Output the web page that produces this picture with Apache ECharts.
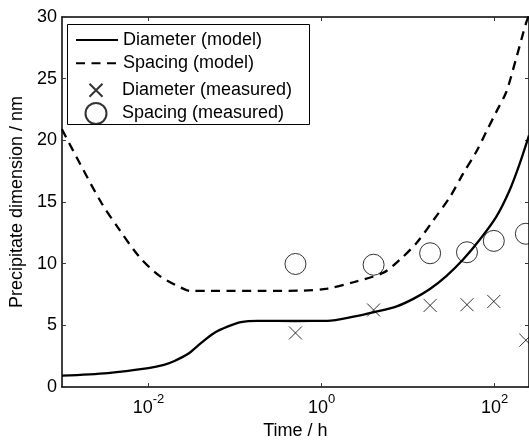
<!DOCTYPE html>
<html>
<head>
<meta charset="utf-8">
<script src="https://cdn.jsdelivr.net/npm/echarts@6/dist/echarts.min.js"></script>
<style>
html,body{margin:0;padding:0;background:#fff;}
#chart{width:529px;height:445px;}
</style>
</head>
<body>
<div id="chart"></div>
<script>
// ---- data ----
const xTickValues = [0.01, 1, 100];
const yTickMin = 0, yTickMax = 30, yTickStep = 5;

const diameterModelTime  = [0.001, 0.00339, 0.01, 0.0151, 0.02, 0.0282, 0.0407, 0.0575, 0.0832, 0.117, 0.182, 0.5, 1.17, 2.34, 4.17, 7.41, 11.5, 17.9, 27.9, 43.3, 67.3, 104.5, 148, 194, 250];
const diameterModelValue = [0.93, 1.14, 1.54, 1.8, 2.12, 2.66, 3.59, 4.39, 4.92, 5.27, 5.37, 5.36, 5.37, 5.71, 6.1, 6.55, 7.15, 7.95, 9.02, 10.34, 11.94, 13.8, 15.9, 18.06, 20.4];

const spacingModelTime  = [0.001, 0.00162, 0.00288, 0.00457, 0.00776, 0.0133, 0.0251, 0.0302, 0.05, 0.2, 0.6, 1.17, 2.34, 5.2, 8.09, 12.6, 19.5, 30.4, 43.3, 61.7, 80.2, 104.5, 136, 177, 231, 260];
const spacingModelValue = [20.9, 18.1, 14.9, 12.8, 10.6, 9.04, 7.98, 7.8, 7.8, 7.8, 7.82, 7.98, 8.5, 9.28, 10.34, 11.7, 13.5, 15.4, 17.3, 19.1, 20.7, 22.3, 23.9, 26.6, 29.5, 30.5];

const measuredTime = [0.5, 4, 18, 48, 98, 230];
const diameterMeasured = [4.39, 6.25, 6.62, 6.68, 6.94, 3.8];
const spacingMeasured  = [9.98, 9.92, 10.85, 10.93, 11.85, 12.43];

const seriesNames = ['Diameter (model)', 'Spacing (model)', 'Diameter (measured)', 'Spacing (measured)'];
const xAxisName = 'Time / h';
const yAxisName = 'Precipitate dimension / nm';

// ---- chart ----
const FONT = '"Liberation Sans", Arial, Helvetica, sans-serif';
const zip = (xs, ys) => xs.map((x, i) => [x, ys[i]]);
const crossPath = 'path://M-4,-4M17,17M0,0L13,13M13,0L0,13';

const chart = echarts.init(document.getElementById('chart'), null, {renderer: 'canvas'});

const expLabel = v => {
  const e = Math.round(Math.log10(v));
  return '{b|10}{s|' + e + '}';
};

const commonX = {
  type: 'log', logBase: 10, min: 0.001, max: 250,
  axisLine: {show: true, onZero: false, lineStyle: {color: '#000', width: 1.5}},
  splitLine: {show: false}, minorTick: {show: false}
};
const commonY = {
  type: 'value', min: yTickMin, max: yTickMax, interval: yTickStep,
  axisLine: {show: true, onZero: false, lineStyle: {color: '#000', width: 1.5}},
  splitLine: {show: false}
};

// one legend row per series, framed by a shared box
const legendRowTops = [29.5, 52.8, 77.2, 100.5];
const legendRowLefts = [75, 75, 83, 83];
const legends = seriesNames.map((name, i) => ({
  orient: 'vertical', left: legendRowLefts[i], top: legendRowTops[i], padding: 0,
  itemWidth: 42, itemHeight: 21, z: 6,
  textStyle: {fontFamily: FONT, fontSize: 18, lineHeight: 21, color: '#000'},
  data: [i < 2 ? {name: name, itemStyle: {opacity: 0}} : {name: name}],
  selectedMode: false
}));

chart.setOption({
  animation: false,
  backgroundColor: '#fff',
  textStyle: {fontFamily: FONT},
  grid: {left: 60, top: 17, width: 470, height: 376, containLabel: false},
  graphic: [{
    type: 'rect', z: 5, silent: true,
    shape: {x: 67.5, y: 24.5, width: 242, height: 100},
    style: {fill: '#fff', stroke: '#000', lineWidth: 1}
  }],
  legend: legends,
  xAxis: [
    Object.assign({}, commonX, {
      position: 'bottom', name: xAxisName, nameLocation: 'middle', nameGap: 34,
      nameTextStyle: {fontFamily: FONT, fontSize: 18, color: '#000'},
      axisTick: {show: true, inside: true, length: 4, customValues: xTickValues, lineStyle: {color: '#333', width: 1}},
      axisLabel: {
        show: true, margin: 6, customValues: xTickValues, color: '#000',
        formatter: expLabel,
        rich: {
          b: {fontFamily: FONT, fontSize: 18, lineHeight: 24, verticalAlign: 'bottom', color: '#000'},
          s: {fontFamily: FONT, fontSize: 13, lineHeight: 24, verticalAlign: 'top', color: '#000'}
        }
      }
    }),
    Object.assign({}, commonX, {
      position: 'top',
      axisTick: {show: true, inside: true, length: 4, customValues: xTickValues, lineStyle: {color: '#333', width: 1}},
      axisLabel: {show: false}
    })
  ],
  yAxis: [
    Object.assign({}, commonY, {
      position: 'left', name: yAxisName, nameLocation: 'middle', nameGap: 32,
      nameTextStyle: {fontFamily: FONT, fontSize: 18, color: '#000'},
      axisTick: {show: true, inside: true, length: 4, lineStyle: {color: '#333', width: 1}},
      axisLabel: {show: true, margin: 5, fontFamily: FONT, fontSize: 18, color: '#000'}
    }),
    Object.assign({}, commonY, {
      position: 'right',
      axisTick: {show: true, inside: true, length: 4, lineStyle: {color: '#333', width: 1}},
      axisLabel: {show: false}
    })
  ],
  series: [
    {
      name: seriesNames[0], type: 'line', xAxisIndex: 0, yAxisIndex: 0,
      data: zip(diameterModelTime, diameterModelValue),
      symbol: 'none', smooth: 0.3, clip: true,
      lineStyle: {color: '#000', width: 2.3, type: 'solid'},
      itemStyle: {color: '#000'}, z: 2
    },
    {
      name: seriesNames[1], type: 'line', xAxisIndex: 0, yAxisIndex: 0,
      data: zip(spacingModelTime, spacingModelValue),
      symbol: 'none', smooth: 0.3, clip: true,
      lineStyle: {color: '#000', width: 2.3, type: [9, 6.5]},
      itemStyle: {color: '#000'}, z: 2
    },
    {
      name: seriesNames[2], type: 'scatter', xAxisIndex: 0, yAxisIndex: 0,
      data: zip(measuredTime, diameterMeasured),
      symbol: crossPath, symbolSize: 21, symbolKeepAspect: true,
      itemStyle: {color: 'none', borderColor: '#000', borderWidth: 1}, z: 3
    },
    {
      name: seriesNames[3], type: 'scatter', xAxisIndex: 0, yAxisIndex: 0,
      data: zip(measuredTime, spacingMeasured),
      symbol: 'circle', symbolSize: 21,
      itemStyle: {color: 'none', borderColor: '#000', borderWidth: 1}, z: 3
    }
  ]
});
</script>
</body>
</html>
